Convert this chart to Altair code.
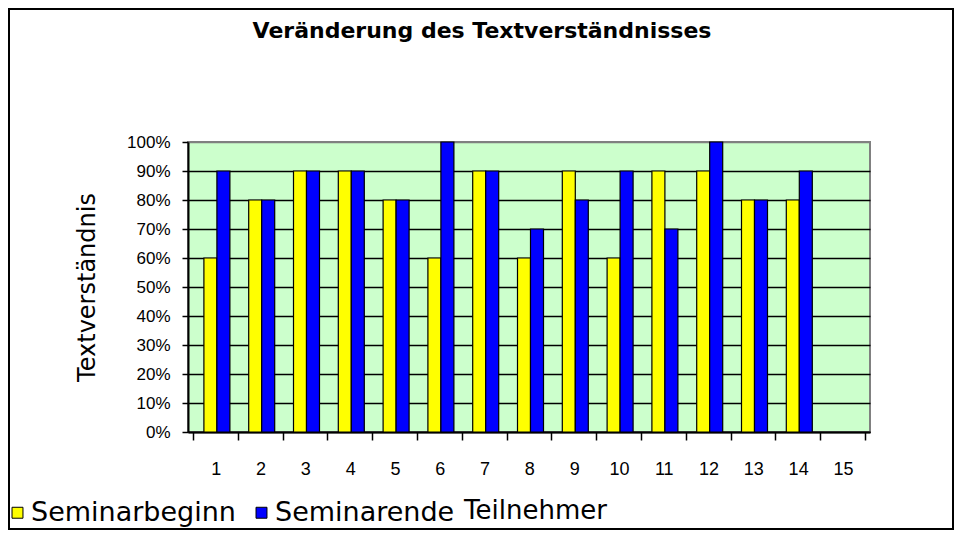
import altair as alt
import pandas as pd

teilnehmer = list(range(1, 16))
seminarbeginn = [0.6, 0.8, 0.9, 0.9, 0.8, 0.6, 0.9, 0.6, 0.9, 0.6, 0.9, 0.9, 0.8, 0.8, None]
seminarende = [0.9, 0.8, 0.9, 0.9, 0.8, 1.0, 0.9, 0.7, 0.8, 0.9, 0.7, 1.0, 0.8, 0.9, None]
series = ["Seminarbeginn", "Seminarende"]
colors = ["#FFFF00", "#0000FF"]
tick_positions = [i + 0.5 for i in range(0, 16)]
y_ticks = [0, 0.1, 0.2, 0.3, 0.4, 0.5, 0.6, 0.7, 0.8, 0.9, 1.0]

df = pd.DataFrame({"Teilnehmer": teilnehmer, "Seminarbeginn": seminarbeginn, "Seminarende": seminarende})

W, H = 682, 290
FONT = "DejaVu Sans"
TICKFONT = "Liberation Sans"

color_scale = alt.Scale(domain=series, range=colors)
x_scale = alt.Scale(domain=[0.5, 15.5], nice=False, zero=False)
x_axis = alt.Axis(
    values=tick_positions,
    tickCount=40,
    labelExpr="datum.value < 15 ? format(datum.value + 0.5, 'd') : ''",
    labelOffset=W / 30,
    labelFontSize=18,
    labelFont=TICKFONT,
    labelPadding=20,
    tickSize=8,
    tickColor="black",
    domainColor="black",
    domainWidth=2,
    tickWidth=1.5,
    grid=False,
    title="Teilnehmer",
    titleFontSize=26,
    titleFontWeight="normal",
    titleX=347,
    titleY=78,
    titleAlign="center",
    titleBaseline="middle",
    labelFlush=False,
    labelOverlap=False,
)
y_axis = alt.Axis(
    values=y_ticks,
    tickCount=40,
    format=".0%",
    labelFontSize=17,
    labelFont=TICKFONT,
    labelPadding=12,
    labelOverlap=False,
    tickSize=6,
    tickColor="black",
    domainColor="black",
    domainWidth=2,
    tickWidth=1.5,
    grid=True,
    gridColor={"condition": {"test": "datum.value === 1", "value": "#808080"}, "value": "black"},
    gridWidth=1.5,
    title="Textverständnis",
    titleFontSize=24,
    titleFontWeight="normal",
    titleX=-101,
    titleY=H / 2,
    titleAlign="center",
    titleBaseline="middle",
)
y_scale = alt.Scale(domain=[0, 1], nice=False)

bar_begin = alt.Chart(df).mark_bar(size=13, xOffset=-5, stroke="black", strokeWidth=1.2).encode(
    x=alt.X("Teilnehmer:Q", scale=x_scale, axis=x_axis),
    y=alt.Y("Seminarbeginn:Q", scale=y_scale, axis=y_axis),
    color=alt.Color("s:N", scale=color_scale, legend=alt.Legend(
        title=None, orient="none", legendX=-184, legendY=357, direction="horizontal",
        padding=0, symbolType="square", symbolSize=120, symbolStrokeColor="black",
        symbolStrokeWidth=1, labelFontSize=27, labelFont=FONT, labelLimit=0,
        columnPadding=12, labelOffset=0, symbolOpacity=1,
    )),
).transform_calculate(s="'Seminarbeginn'")

bar_end = alt.Chart(df).mark_bar(size=13, xOffset=8, stroke="black", strokeWidth=1.2).encode(
    x=alt.X("Teilnehmer:Q", scale=x_scale, axis=x_axis),
    y=alt.Y("Seminarende:Q", scale=y_scale, axis=y_axis),
    color=alt.Color("s:N", scale=color_scale),
).transform_calculate(s="'Seminarende'")

frame = alt.Chart(pd.DataFrame({"a": [0]})).mark_rect(fill=None, stroke="black", strokeWidth=2).encode(
    x=alt.value(-179), x2=alt.value(765), y=alt.value(-133), y2=alt.value(387)
)

chart = alt.layer(bar_begin, bar_end, frame).properties(
    width=W,
    height=H,
    autosize=alt.AutoSizeParams(type="none"),
    padding={"left": 180, "top": 134, "right": 84, "bottom": 98},
    title=alt.TitleParams(
        "Veränderung des Textverständnisses",
        fontSize=22, font=FONT, fontWeight="bold", anchor="middle", dx=-47, dy=22,
        offset=-30, baseline="alphabetic",
    ),
).configure(font=FONT).configure_view(
    fill="#CCFFCC", stroke="#808080", strokeWidth=2
).configure_axis(labelColor="black", titleColor="black", titleFont=FONT)

chart.save("out.html", embed_options={"renderer": "svg", "actions": False})
